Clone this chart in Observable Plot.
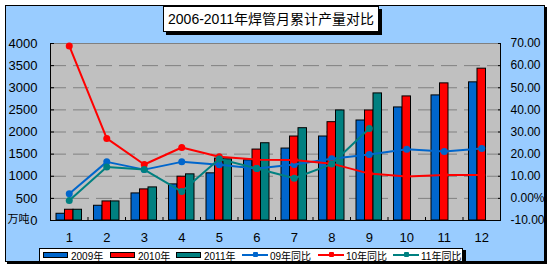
<!DOCTYPE html>
<html><head><meta charset="utf-8">
<script src="https://cdn.jsdelivr.net/npm/d3@7"></script>
<script src="https://cdn.jsdelivr.net/npm/@observablehq/plot@0.6"></script>
<style>
html,body{margin:0;padding:0;background:#fff;width:554px;height:269px;overflow:hidden;}
body{position:relative;font-family:"Liberation Sans","Noto Sans CJK SC",sans-serif;}
#chart{position:absolute;left:5px;top:5px;width:540px;height:257px;box-sizing:border-box;border:1px solid #000;background:#99CCFF;box-shadow:2px 2px 0 #000;}
#plotwrap{position:absolute;left:-6px;top:-6px;width:554px;height:269px;}
#title{position:absolute;left:163px;top:6px;width:216px;height:26px;box-sizing:border-box;border:1px solid #000;background:#fff;box-shadow:3px 3px 0 #000;font-size:14px;line-height:24px;text-align:center;color:#000;white-space:nowrap;}
#legend{position:absolute;left:39px;top:248px;width:424px;height:14px;box-sizing:border-box;border:1px solid #000;background:#fff;box-shadow:3px 2px 0 #000;font-size:10px;color:#000;}
.li{position:absolute;top:0;height:12px;display:flex;align-items:center;white-space:nowrap;}
.sw{width:23px;height:4px;border:1px solid #000;margin-right:3px;}
.ln{position:relative;width:26px;height:2px;margin-right:2px;}
.ln i{position:absolute;left:11px;top:-2px;width:5px;height:5px;border-radius:1px;}
</style></head>
<body>
<div id="chart"><div id="plotwrap"></div></div>
<div id="title">2006-2011年焊管月累计产量对比</div>
<div id="legend"></div>
<script>
const months = [1,2,3,4,5,6,7,8,9,10,11,12];
const y2009 = [152, 333, 612, 816, 1066, 1360, 1626, 1898, 2260, 2555, 2827, 3122];
const y2010 = [243, 431, 703, 990, 1399, 1603, 1898, 2222, 2487, 2804, 3099, 3431];
const y2011 = [243, 431, 748, 1043, 1383, 1746, 2086, 2487, 2872];
const pct09 = [2.1, 16.5, 13.0, 16.5, 15.2, 13.5, 15.3, 17.9, 19.8, 22.2, 21.2, 22.5];
const pct10 = [68.9, 27.1, 15.3, 23.0, 18.8, 17.5, 17.3, 15.7, 11.2, 9.9, 10.6, 10.6];
const pct11 = [-1.0, 14.2, 13.0, 3.1, 17.8, 13.5, 9.1, 15.5, 31.6];
const leftTicks = [0,500,1000,1500,2000,2500,3000,3500,4000];
const rightTicks = [-10,0,10,20,30,40,50,60,70];
const rightLabels = ["-10.00","0.00%","10.00","20.00","30.00","40.00","50.00","60.00","70.00"];
const barNames = ["2009年","2010年","2011年"];
const lineNames = ["09年同比","10年同比","11年同比"];
const colors = ["#0066CC","#FF0000","#008080"];

const pctToLeft = d3.scaleLinear().domain([-10,70]).range([0,4000]);
const rightPos = rightTicks.map(pctToLeft);
const fmtRight = v => rightLabels[rightPos.indexOf(v)];

const barSeries = [y2009, y2010, y2011].map((arr, i) => arr.map((v, j) => ({month: months[j], v, s: i})));
const lineSeries = [pct09, pct10, pct11].map((arr, i) => arr.map((v, j) => ({month: months[j], v: pctToLeft(v), s: i})));

const bw = 37.5, groupStart = 6, barW = 8.5;
const marks = [
  Plot.frame({fill: "#C0C0C0", stroke: null}),
  Plot.gridY({ticks: leftTicks.slice(1, -1), stroke: "#808080", strokeOpacity: 1, strokeDasharray: "16,7"}),
  Plot.ruleY([4000], {stroke: "#808080"}),
];
barSeries.forEach((data, i) => {
  marks.push(Plot.barY(data, {x: "month", y: "v", fill: colors[i], stroke: "#000", strokeWidth: 1,
    insetLeft: groupStart + barW * i, insetRight: bw - groupStart - barW * (i + 1)}));
});
lineSeries.forEach((data, i) => {
  marks.push(Plot.line(data, {x: "month", y: "v", stroke: colors[i], strokeWidth: 2}));
  marks.push(Plot.dot(data, {x: "month", y: "v", fill: colors[i], r: 3.5}));
});
marks.push(
  Plot.ruleY([0], {stroke: "#000"}),
  Plot.ruleX([months[0]], {dx: -bw / 2, stroke: "#000"}),
  Plot.ruleX([months[months.length - 1]], {dx: bw / 2, stroke: "#000"}),
  Plot.axisY({ticks: leftTicks, tickSize: -4, tickFormat: () => "", label: null}),
  Plot.axisY({ticks: leftTicks, tickSize: 0, tickPadding: 13, tickFormat: d => String(d), label: null, fill: "#000", fontSize: 13}),
  Plot.axisY({ticks: rightPos, anchor: "right", tickSize: -3, tickFormat: () => "", label: null}),
  Plot.axisY({ticks: rightPos, anchor: "right", tickSize: 0, tickPadding: 10, tickFormat: fmtRight, label: null, fill: "#000", fontSize: 12}),
  Plot.axisX({ticks: months.slice(1), tickSize: -3, dx: -bw / 2, tickFormat: () => "", label: null}),
  Plot.axisX({ticks: months, tickSize: 0, tickPadding: 12, label: null, fill: "#000"}),
  Plot.text(["万吨"], {frameAnchor: "bottom-left", text: d => d, dx: -43, dy: 2, textAnchor: "start", fontSize: 11, fill: "#000"})
);

const chart = Plot.plot({
  width: 554, height: 269,
  marginLeft: 50, marginRight: 54, marginTop: 43, marginBottom: 49,
  style: {background: "transparent", fontFamily: "Liberation Sans, Noto Sans CJK SC, sans-serif", fontSize: "13px", overflow: "visible", color: "#000"},
  x: {type: "band", domain: months, padding: 0, round: false, axis: null},
  y: {domain: [0, 4000], axis: null},
  marks
});
document.getElementById("plotwrap").appendChild(chart);

// legend
const legend = document.getElementById("legend");
const itemX = [3, 70, 136, 202, 278, 353];
const items = barNames.map((n, i) => ({name: n, color: colors[i], kind: "bar"}))
  .concat(lineNames.map((n, i) => ({name: n, color: colors[i], kind: "line"})));
items.forEach((it, k) => {
  const el = document.createElement("div");
  el.className = "li";
  el.style.left = itemX[k] + "px";
  if (it.kind === "bar") {
    el.innerHTML = `<span class="sw" style="background:${it.color}"></span><span>${it.name}</span>`;
  } else {
    el.innerHTML = `<span class="ln" style="background:${it.color}"><i style="background:${it.color}"></i></span><span>${it.name}</span>`;
  }
  legend.appendChild(el);
});
</script>
</body></html>
